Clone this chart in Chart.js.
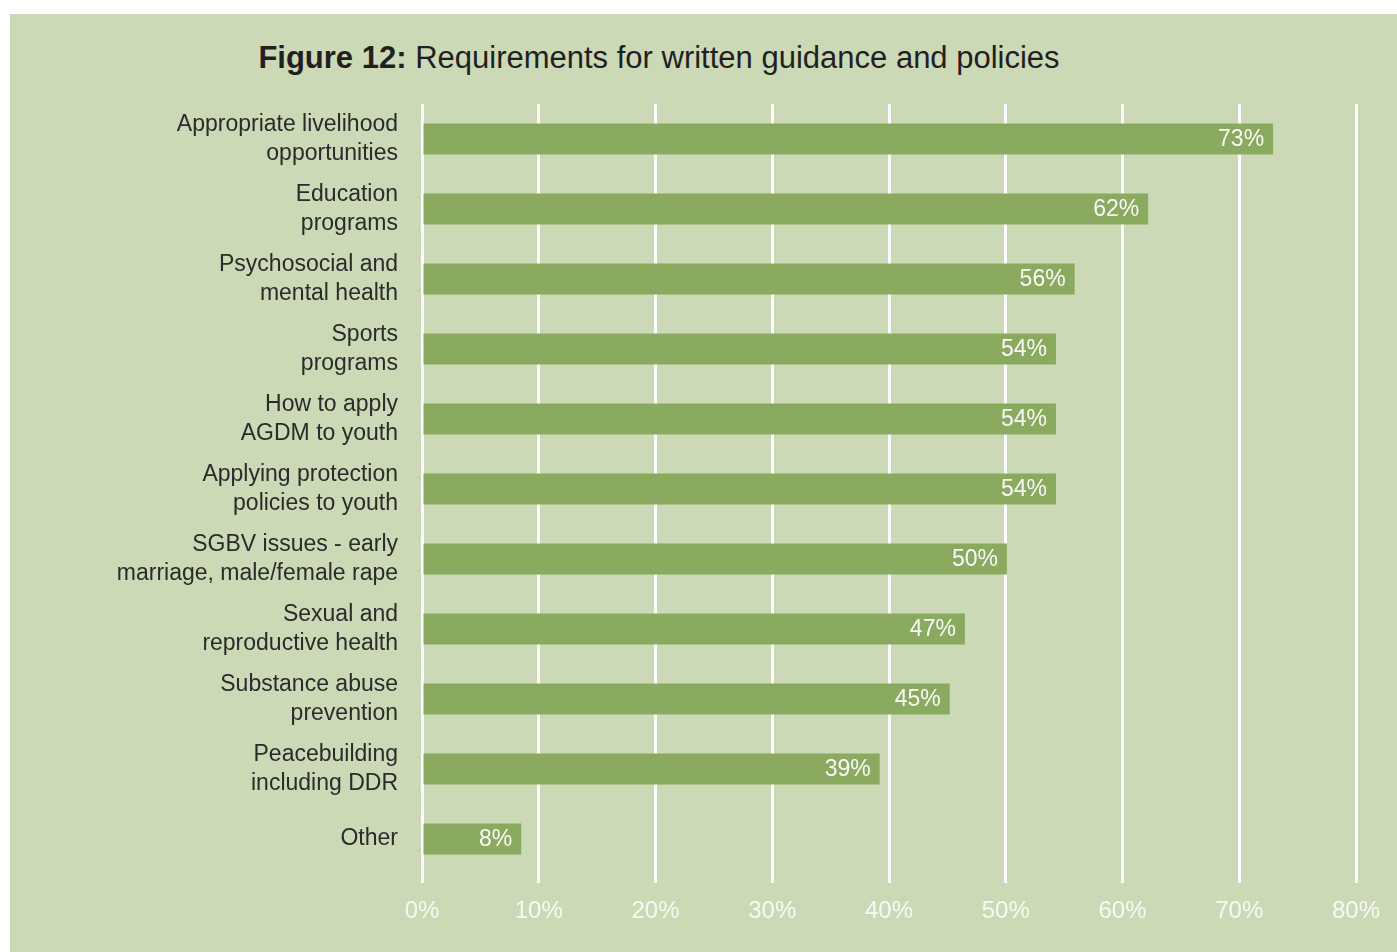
<!DOCTYPE html>
<html>
<head>
<meta charset="utf-8">
<script src="https://cdn.jsdelivr.net/npm/chart.js@4"></script>
<style>
  body { margin: 0; background: #ffffff; }
  #panel { position: absolute; left: 10px; top: 14px; width: 1387px; height: 938px; background: #cbd9b6; }
  #title { position: absolute; left: 0; top: 40px; width: 1318px; text-align: center;
           font-family: "Liberation Sans", Arial, sans-serif; font-size: 31px; color: #231f20; }
  #wrap { position: absolute; left: 0; top: 0; width: 1397px; height: 952px; }
</style>
</head>
<body>
<div id="panel"></div>
<div id="title"><b>Figure 12:</b> Requirements for written guidance and policies</div>
<div id="wrap"><canvas id="chart"></canvas></div>
<script>
// categories (top to bottom)
const categories = [
  ['Appropriate livelihood', 'opportunities'],
  ['Education', 'programs'],
  ['Psychosocial and', 'mental health'],
  ['Sports', 'programs'],
  ['How to apply', 'AGDM to youth'],
  ['Applying protection', 'policies to youth'],
  ['SGBV issues - early', 'marriage, male/female rape'],
  ['Sexual and', 'reproductive health'],
  ['Substance abuse', 'prevention'],
  ['Peacebuilding', 'including DDR'],
  'Other'
];
const values = [72.9, 62.2, 55.9, 54.3, 54.3, 54.3, 50.1, 46.5, 45.2, 39.2, 8.5];
const valueLabels = ['73%', '62%', '56%', '54%', '54%', '54%', '50%', '47%', '45%', '39%', '8%'];
const xTicks = [0, 10, 20, 30, 40, 50, 60, 70, 80];

const FONT = '"Liberation Sans", Arial, sans-serif';

// white value labels inside the bar ends
const barLabels = {
  id: 'barLabels',
  afterDatasetsDraw(chart) {
    const ctx = chart.ctx;
    const meta = chart.getDatasetMeta(0);
    ctx.save();
    ctx.font = '23px ' + FONT;
    ctx.fillStyle = 'rgba(255,255,255,0.95)';
    ctx.textAlign = 'right';
    ctx.textBaseline = 'middle';
    meta.data.forEach((bar, i) => {
      ctx.fillText(valueLabels[i], bar.x - 9, bar.y + 1);
    });
    ctx.restore();
  }
};

new Chart(document.getElementById('chart'), {
  type: 'bar',
  data: {
    labels: categories,
    datasets: [{
      data: values,
      backgroundColor: '#8aab5f',
      borderWidth: 0,
      barPercentage: 0.443,
      categoryPercentage: 1.0
    }]
  },
  options: {
    indexAxis: 'y',
    responsive: true,
    maintainAspectRatio: false,
    animation: false,
    layout: { padding: { top: 104, right: 41, left: 0, bottom: 0 } },
    plugins: {
      legend: { display: false },
      tooltip: { enabled: false }
    },
    scales: {
      x: {
        min: 0,
        max: 80,
        afterBuildTicks: (s) => { s.ticks = xTicks.map(v => ({ value: v })); },
        afterFit: (s) => { s.height = 78; },
        grid: { color: '#ffffff', lineWidth: 3, drawTicks: true, tickLength: 9 },
        border: { display: false },
        ticks: {
          color: 'rgba(255,255,255,0.85)',
          font: { family: FONT, size: 24 },
          padding: 14,
          callback: (v) => v + '%'
        }
      },
      y: {
        afterFit: (s) => { s.width = 422; },
        grid: { display: false, drawTicks: false },
        border: { display: false },
        ticks: {
          color: '#2b2b2b',
          font: { family: FONT, size: 23, lineHeight: 1.26 },
          padding: 24
        }
      }
    }
  },
  plugins: [barLabels]
});
</script>
</body>
</html>
